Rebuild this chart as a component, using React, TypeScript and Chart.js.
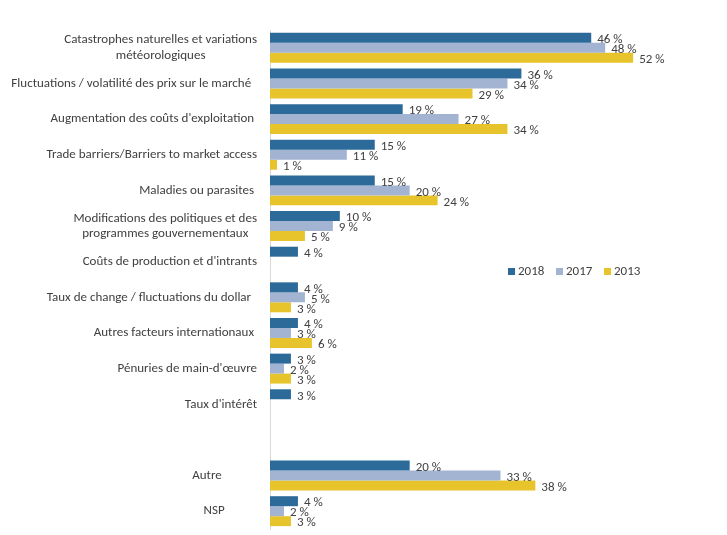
import React, { useEffect, useRef } from "react";
import { Chart, registerables } from "chart.js";

Chart.register(...registerables);

const categories: (string | string[])[] = [
  ["Catastrophes naturelles et variations", "météorologiques"],
  "Fluctuations / volatilité des prix sur le marché  ",
  "Augmentation des coûts d'exploitation ",
  "Trade barriers/Barriers to market access",
  "Maladies ou parasites ",
  ["Modifications des politiques et des", "programmes gouvernementaux"],
  "Coûts de production et d'intrants",
  "Taux de change / fluctuations du dollar  ",
  "Autres facteurs internationaux ",
  "Pénuries de main-d'œuvre",
  "Taux d'intérêt",
  "",
  "Autre            ",
  "NSP           ",
];

const seriesNames = ["2018", "2017", "2013"];
const values2018 = [46, 36, 19, 15, 15, 10, 4, 4, 4, 3, 3, null, 20, 4];
const values2017 = [48, 34, 27, 11, 20, 9, null, 5, 3, 2, null, null, 33, 2];
const values2013 = [52, 29, 34, 1, 24, 5, null, 3, 6, 3, null, null, 38, 3];
const colors = ["#2B6A99", "#A3B3D2", "#E7C42B"];

const FONT = '"Carlito", "Liberation Sans", sans-serif';
const TEXT_COLOR = "#404040";

const labelsPlugin = {
  id: "customText",
  afterDraw(chart: any) {
    const ctx = chart.ctx;
    const area = chart.chartArea;
    const yScale = chart.scales.y;
    ctx.save();
    ctx.font = `13px ${FONT}`;
    ctx.fillStyle = TEXT_COLOR;
    ctx.textBaseline = "middle";
    // category labels
    const rightEdge = area.left - 13;
    categories.forEach((lab, i) => {
      const y = yScale.getPixelForTick(i);
      if (Array.isArray(lab)) {
        const lh = 15.5;
        const maxW = Math.max(...lab.map((l) => ctx.measureText(l).width));
        const cx = rightEdge - maxW / 2;
        ctx.textAlign = "center";
        lab.forEach((l, j) => {
          ctx.fillText(l, cx, y + (j - (lab.length - 1) / 2) * lh);
        });
      } else if (lab) {
        ctx.textAlign = "right";
        ctx.fillText(lab, rightEdge, y);
      }
    });
    // value labels
    ctx.textAlign = "left";
    chart.data.datasets.forEach((ds: any, di: number) => {
      const meta = chart.getDatasetMeta(di);
      meta.data.forEach((bar: any, i: number) => {
        const v = ds.data[i];
        if (v === null || v === undefined) return;
        ctx.fillText(`${v} %`, bar.x + 6, bar.y + 2);
      });
    });
    // legend
    let lx = 500;
    const ly = 264;
    chart.data.datasets.forEach((ds: any) => {
      ctx.fillStyle = ds.backgroundColor;
      ctx.fillRect(lx, ly - 4, 7, 7);
      ctx.fillStyle = TEXT_COLOR;
      ctx.fillText(ds.label, lx + 10, ly);
      lx += 48;
    });
    ctx.restore();
  },
};

export default function App() {
  const ref = useRef<HTMLCanvasElement | null>(null);
  useEffect(() => {
    if (!ref.current) return;
    const chart = new Chart(ref.current, {
      type: "bar",
      data: {
        labels: categories.map((c) => (Array.isArray(c) ? c.join(" ") : c)),
        datasets: [values2018, values2017, values2013].map((d, k) => ({
          label: seriesNames[k],
          data: d,
          backgroundColor: colors[k],
          borderWidth: 0,
          categoryPercentage: 0.84,
          barPercentage: 1.0,
        })),
      },
      options: {
        indexAxis: "y",
        animation: false,
        responsive: false,
        layout: { padding: { top: 22, bottom: 4, right: 30, left: 0 } },
        plugins: { legend: { display: false }, tooltip: { enabled: false } },
        scales: {
          x: { min: 0, max: 60, display: false },
          y: {
            grid: { display: false },
            border: { display: true, color: "#D9D9D9", width: 1 },
            ticks: { display: false },
            afterFit: (s: any) => {
              s.width = 262;
            },
          },
        },
      },
      plugins: [labelsPlugin],
    } as any);
    return () => chart.destroy();
  }, []);
  return <canvas ref={ref} width={711} height={525} />;
}
